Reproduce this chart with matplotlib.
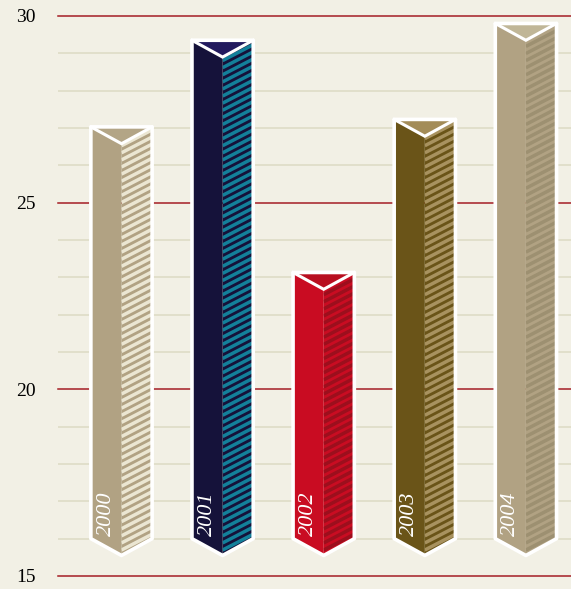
import matplotlib
matplotlib.use("Agg")
import matplotlib.pyplot as plt
from matplotlib.patches import Polygon
from matplotlib.collections import LineCollection
import numpy as np

# data
years = ["2000", "2001", "2002", "2003", "2004"]
values = [27.03, 29.35, 23.13, 27.23, 29.8]
y_ticks = [15, 20, 25, 30]

# styling per bar
left_colors = ["#b1a283", "#15123a", "#c90c22", "#6a5418", "#b1a283"]
stripe_colors = ["#ebe6d2", "#13809a", "#9c0f1d", "#a8925f", "#9d9071"]
cap_colors = ["#b3a586", "#221a5e", "#b80f20", "#a38c58", "#c0b697"]

BG = "#f2f0e5"
base = 16.0       # where the bar sides end
half_w = 0.303    # half width of a prism
depth = 0.45      # depth of the chevron at top / bottom
slope = 1.40      # stripe slope in data units
gap = 0.19        # vertical stripe spacing

fig = plt.figure(figsize=(5.71, 5.89), dpi=100)
fig.set_facecolor(BG)
ax = fig.add_axes([58 / 571, 13 / 589, 513 / 571, 560 / 589])
ax.set_facecolor(BG)
ax.set_xlim(-0.628, 4.446)
ax.set_ylim(15, 30)

# grid: gray minor lines each unit, red at the ticks
for y in range(16, 30):
    if y not in y_ticks:
        ax.axhline(y, color="#dcdac4", lw=1.1, zorder=0)
for y in y_ticks:
    ax.axhline(y, color="#a51d24", lw=1.1, zorder=1, clip_on=False)

for i, (yr, v) in enumerate(zip(years, values)):
    c = i
    l, r = c - half_w, c + half_w
    left_face = Polygon([(l, base), (l, v), (c, v - depth), (c, base - depth)],
                        closed=True, fc=left_colors[i], ec="none", zorder=3)
    right_face = Polygon([(c, base - depth), (c, v - depth), (r, v), (r, base)],
                         closed=True, fc=left_colors[i], ec="none", zorder=3)
    cap = Polygon([(l, v), (r, v), (c, v - depth)], closed=True,
                  fc=cap_colors[i], ec="none", zorder=3)
    for p in (left_face, right_face, cap):
        ax.add_patch(p)

    # diagonal stripes on the right face
    offs = np.arange(base - depth - slope * half_w - gap, v + gap, gap)
    segs = [[(c, y0), (r, y0 + slope * half_w)] for y0 in offs]
    lc = LineCollection(segs, colors=stripe_colors[i], linewidths=2.5, zorder=4)
    lc.set_clip_path(right_face)
    ax.add_collection(lc)

    # white outline and top chevron
    outline = Polygon([(l, base), (l, v), (r, v), (r, base), (c, base - depth)],
                      closed=True, fc="none", ec="white", lw=2.6,
                      joinstyle="round", zorder=5)
    ax.add_patch(outline)
    ax.plot([l, c, r], [v, v - depth, v], color="white", lw=2.2,
            solid_joinstyle="miter", zorder=5)

    ax.text(c - half_w / 2, base + 0.06, yr, rotation=90, ha="center", va="bottom",
            color="white", fontsize=16, family="Liberation Serif", style="italic",
            zorder=6)

ax.set_yticks(y_ticks)
ax.set_yticklabels([str(t) for t in y_ticks], family="Liberation Serif",
                   fontsize=14, color="#000000")
ax.tick_params(axis="y", length=0, pad=16)
ax.set_xticks([])
for s in ax.spines.values():
    s.set_visible(False)

fig.savefig("out.png", dpi=100, facecolor=BG)
